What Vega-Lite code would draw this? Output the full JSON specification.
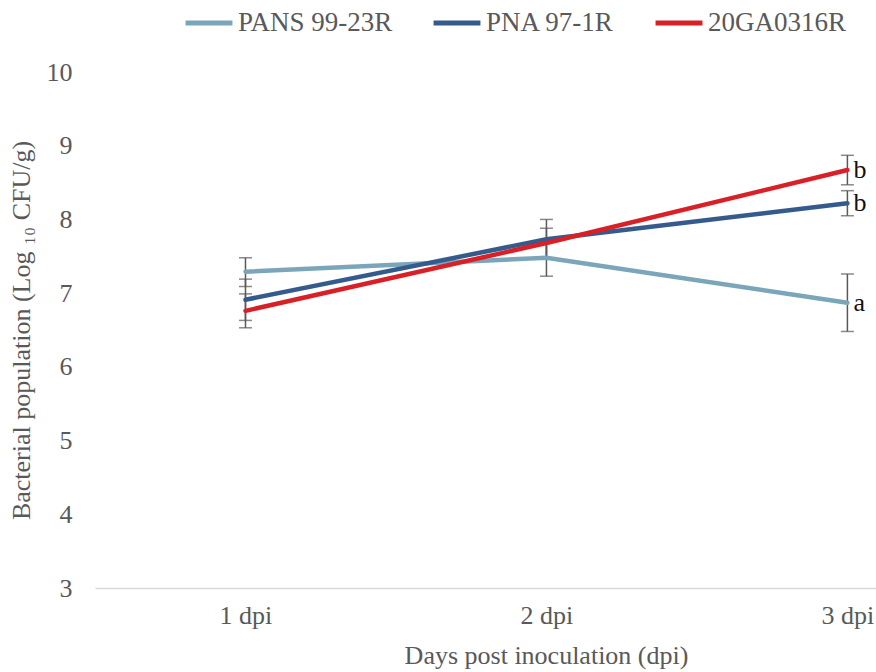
{
  "$schema": "https://vega.github.io/schema/vega-lite/v6.json",
  "width": 781,
  "height": 516,
  "autosize": {"type": "none"},
  "padding": {"left": 95, "top": 72, "right": 0, "bottom": 84},
  "background": "white",
  "config": {
    "view": {"stroke": null},
    "font": "Liberation Serif",
    "axis": {"labelFont": "Liberation Serif", "titleFont": "Liberation Serif", "labelColor": "#595959", "titleColor": "#595959", "labelFontSize": 26, "titleFontSize": 26, "titleFontWeight": "normal", "grid": false, "ticks": false},
    "legend": {"labelFont": "serif", "labelColor": "#595959", "labelFontSize": 27}
  },
  "data": {
    "values": [
      {"strain": "PANS 99-23R", "day": 1, "mean": 7.29, "lo": 7.09, "hi": 7.48, "letter": ""},
      {"strain": "PANS 99-23R", "day": 2, "mean": 7.48, "lo": 7.23, "hi": 7.70, "letter": ""},
      {"strain": "PANS 99-23R", "day": 3, "mean": 6.87, "lo": 6.48, "hi": 7.26, "letter": "a"},
      {"strain": "PNA 97-1R", "day": 1, "mean": 6.91, "lo": 6.63, "hi": 7.19, "letter": ""},
      {"strain": "PNA 97-1R", "day": 2, "mean": 7.73, "lo": 7.46, "hi": 8.00, "letter": ""},
      {"strain": "PNA 97-1R", "day": 3, "mean": 8.22, "lo": 8.05, "hi": 8.39, "letter": "b"},
      {"strain": "20GA0316R", "day": 1, "mean": 6.76, "lo": 6.53, "hi": 6.99, "letter": ""},
      {"strain": "20GA0316R", "day": 2, "mean": 7.68, "lo": 7.48, "hi": 7.88, "letter": ""},
      {"strain": "20GA0316R", "day": 3, "mean": 8.67, "lo": 8.47, "hi": 8.87, "letter": "b"}
    ]
  },
  "encoding": {
    "x": {
      "field": "day", "type": "quantitative",
      "scale": {"domain": [0.5, 3.095], "nice": false, "zero": false},
      "axis": {
        "values": [1, 2, 3],
        "labelExpr": "datum.value + ' dpi'",
        "title": "Days post inoculation (dpi)",
        "domainColor": "#d9d9d9", "domainWidth": 1.3,
        "labelPadding": 14, "titlePadding": 14,
        "titleX": 451, "titleAnchor": "middle"
      }
    }
  },
  "layer": [
    {
      "mark": {"type": "rule", "color": "#595959", "strokeWidth": 1.5},
      "encoding": {
        "y": {"field": "lo", "type": "quantitative"},
        "y2": {"field": "hi"}
      }
    },
    {
      "mark": {"type": "tick", "orient": "horizontal", "color": "#595959", "size": 13, "thickness": 1.5},
      "encoding": {"y": {"field": "lo", "type": "quantitative"}}
    },
    {
      "mark": {"type": "tick", "orient": "horizontal", "color": "#595959", "size": 13, "thickness": 1.5},
      "encoding": {"y": {"field": "hi", "type": "quantitative"}}
    },
    {
      "mark": {"type": "line", "strokeWidth": 4.5, "strokeCap": "round"},
      "encoding": {
        "y": {
          "field": "mean", "type": "quantitative",
          "scale": {"domain": [3, 10], "nice": false, "zero": false},
          "axis": {
            "values": [3, 4, 5, 6, 7, 8, 9, 10],
            "format": "d",
            "domain": false,
            "labelPadding": 23,
            "title": "Bacterial population (Log ₁₀ CFU/g)",
            "titlePadding": 12
          }
        },
        "color": {
          "field": "strain", "type": "nominal",
          "scale": {"domain": ["PANS 99-23R", "PNA 97-1R", "20GA0316R"], "range": ["#7BA6B9", "#355B8D", "#DA2027"]},
          "legend": {
            "title": null, "orient": "none", "direction": "horizontal",
            "legendX": 88, "legendY": -75,
            "labelFont": "serif", "labelFontSize": 27, "labelColor": "#595959",
            "symbolType": "stroke", "symbolSize": 2200, "symbolStrokeWidth": 5,
            "labelOffset": 3, "columnPadding": 30
          }
        },
        "detail": {"field": "strain"}
      }
    },
    {
      "transform": [{"filter": "datum.letter != ''"}],
      "mark": {"type": "text", "align": "left", "baseline": "middle", "dx": 6, "fontSize": 26, "font": "Liberation Serif, serif", "color": "#111111"},
      "encoding": {
        "y": {"field": "mean", "type": "quantitative"},
        "text": {"field": "letter"}
      }
    }
  ]
}
